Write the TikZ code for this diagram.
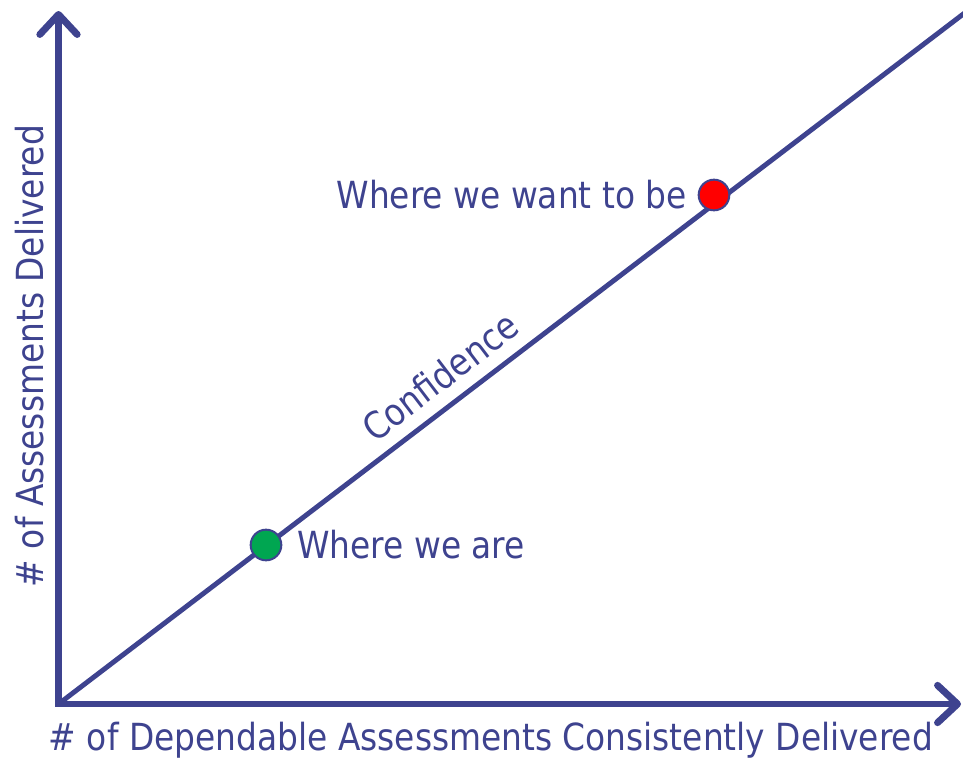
\documentclass[tikz,border=0pt]{standalone}
\usepackage{fontspec}
\setmainfont[FakeStretch=0.88]{DejaVu Sans}
\usetikzlibrary{arrows.meta, positioning}
\definecolor{axisblue}{RGB}{62,67,143}
\definecolor{nowgreen}{RGB}{0,166,81}
\definecolor{goalred}{RGB}{255,0,0}

\begin{document}
\begin{tikzpicture}[x=0.75pt, y=-0.75pt,
        axis/.style={line width=5.2pt, axisblue, line join=miter, {Straight Barb[length=15pt, width=28pt, round]}-{Straight Barb[length=15pt, width=28pt, round]}},
        trend/.style={line width=3.7pt, axisblue},
        spot/.style={circle, draw=axisblue, line width=1.5pt, minimum size=23pt, inner sep=0pt},
        txt/.style={text=axisblue, font=\fontsize{28}{32}\selectfont, inner sep=0pt},
        node distance=8pt
        ]

        \useasboundingbox (0,0) rectangle (963,760);
        \clip (0,0) rectangle (963,760);

        % Axes
        \coordinate (origin) at (58.5,704);
        \coordinate (ytip) at (58.5,11);
        \coordinate (xtip) at (961,704);
        \coordinate (lineend) at (1000,-14);
        \draw [axis] (ytip) -- (origin) -- (xtip);

        % Confidence line
        \draw [trend] (origin) -- node[txt, sloped, above=9pt, pos=0.424] (conf) {Confidence} (lineend);

        % Points
        \node (now) [spot, fill=nowgreen] at (266,545) {};
        \node (goal) [spot, fill=goalred] at (714,195) {};
        \node (nowlabel) [txt, right=of now, xshift=3pt] {Where we are};
        \node (goallabel) [txt, left=of goal] {Where we want to be};

        % Axis labels
        \node (ylabel) [txt, rotate=90] at (30,356) {\# of Assessments Delivered};
        \node (xlabel) [txt] at (491,740) {\# of Dependable Assessments Consistently Delivered};

    \end{tikzpicture}
\end{document}
